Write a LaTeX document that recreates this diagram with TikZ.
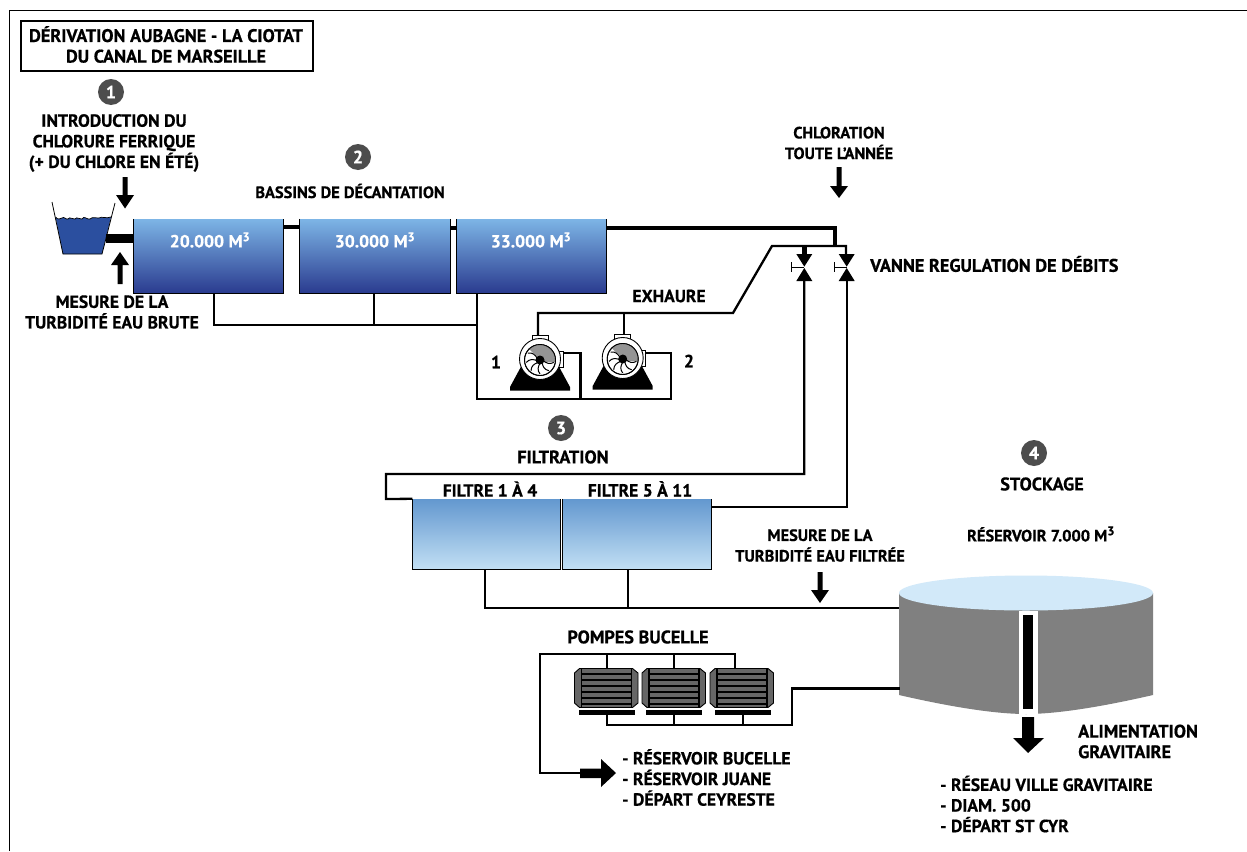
\documentclass[tikz,border=0pt]{standalone}
\usepackage{fontspec}
\setmainfont{PT Sans}[BoldFeatures={FakeBold=0.6}]
\usetikzlibrary{calc}
\definecolor{basintop}{HTML}{7DB5E6}
\definecolor{basinbot}{HTML}{2A3B8F}
\definecolor{filtertop}{HTML}{6398CF}
\definecolor{filterbot}{HTML}{C2DFF4}
\definecolor{badge}{HTML}{4D4D4D}
\definecolor{rsvtop}{HTML}{D2E9F9}
\definecolor{rsvside}{HTML}{808080}
\definecolor{motorgray}{HTML}{666666}
\definecolor{tankblue}{HTML}{2B4F9F}
\tikzset{
  lbl/.style={font=\bfseries\fontsize{17.6}{20.6}\selectfont,align=center,inner sep=0pt,text=black},
  lblbig/.style={lbl,font=\bfseries\fontsize{18.2}{20.6}\selectfont},
  lblsmall/.style={lbl,font=\bfseries\fontsize{16.4}{20.6}\selectfont},
  lbll/.style={lbl,align=left,anchor=west},
  basin/.style={minimum height=74pt,minimum width=150pt,inner sep=0pt,top color=basintop,bottom color=basinbot,text=white},
  filterbox/.style={minimum height=70pt,minimum width=148pt,inner sep=0pt,top color=filtertop,bottom color=filterbot},
  badgec/.style={circle,fill=badge,text=white,minimum size=26pt,inner sep=0pt,font=\bfseries\fontsize{18}{18}\selectfont},
  pipe/.style={draw=black,line width=2.3pt,line join=miter},
  pipeb/.style={draw=black,line width=4.6pt,line join=miter},
  edge/.style={draw=black,line width=1pt},
}
\newcommand{\mthree}{M\textsuperscript{\fontsize{12.5}{12}\selectfont 3}}
\newcommand{\vArrow}[5]{%
  \fill[black] (#1-#5,#2) -- (#1+#5,#2) -- (#1+#5,#3) -- (#1+9,#3) -- (#1,#4) -- (#1-9,#3) -- (#1-#5,#3) -- cycle;}
\newcommand{\valveglyph}[2]{%
  \fill[black] (#1-8,254) -- (#1+8,254) -- (#1,266.6) -- cycle;
  \fill[black] (#1-8,281) -- (#1+8,281) -- (#1,268) -- cycle;
  \draw[black,line width=1pt] (#2,262) -- (#2,272) (#2,267.3) -- (#1,267.3);}
\newcommand{\pumpglyph}[2]{%
 \begin{scope}[shift={(#1,#2)}]
  \fill[black] (-30,30.5) -- (30,30.5) -- (30,27) -- (17,3) -- (-17,3) -- (-30,27) -- cycle;
  \draw[black,fill=white,line width=.8pt] (-8,-20) rectangle (8,-24.5);
  \draw[black,fill=white,line width=.8pt] (18,-9) rectangle (23,7);
  \draw[black,fill=white,line width=.9pt] (0,-1) circle (20.5);
  \draw[black,fill=white,line width=.9pt] (0,0) circle (15.5);
  \fill[black!42] (-11,-11) arc (225:368:15.5) -- (4,2) -- (-2,-3) -- (-6,-6) -- cycle;
  \begin{scope}
   \clip (0,0) circle (15);
   \foreach \a in {150,190,230,270,310,350}{
    \draw[black,line width=1pt,rotate=\a] (3,0) .. controls (7,2) and (10,3) .. (14,0);}
  \end{scope}
  \draw[black,line width=.9pt] (0,0) circle (15.5);
  \fill[black] (0,0) circle (4.5);
 \end{scope}}
\newcommand{\motorglyph}[1]{%
 \begin{scope}[shift={(#1,0)}]
  \draw[black,fill=motorgray,line width=.9pt] (5,668.5) -- (58,668.5) -- (63.5,673) -- (63.5,703) -- (58,707.5) -- (5,707.5) -- (0,703) -- (0,673) -- cycle;
  \draw[black,line width=1.6pt] (7,668.5) -- (7,707.5) (57,668.5) -- (57,707.5);
  \foreach \y in {668.5,674,680,686,692,698,704,707.5}{\draw[black,line width=1.1pt] (7,\y) -- (57,\y);}
 \end{scope}}
\begin{document}
\begin{tikzpicture}[x=1pt,y=-1pt]
\useasboundingbox (0,0) rectangle (1247,851);
\fill[white] (0,0) rectangle (1247,851);
% page frame
\coordinate (fTL) at (9,10); \coordinate (fTR) at (1247,10); \coordinate (fBL) at (9,851);
\draw[black,line width=.8pt] (fBL) -- (fTL) -- (fTR);
% title
\node[draw=black,line width=2pt,minimum width=292pt,minimum height=50pt,inner sep=0pt] (titlebox) at (166.5,46) {};
\node[lblbig] (title) at (166,44.5) {DÉRIVATION AUBAGNE - LA CIOTAT\\DU CANAL DE MARSEILLE};
% badges
\node[badgec] (n1) at (111,92) {1};
\node[badgec] (n2) at (358,157) {2};
\node[badgec] (n3) at (561,428) {3};
\node[badgec] (n4) at (1034,453) {4};
% labels
\node[lbl] (intro) at (114,143) {INTRODUCTION DU\\CHLORURE FERRIQUE\\(+ DU CHLORE EN ÉTÉ)};
\node[lbl] (mesb) at (112,312) {MESURE DE LA\\TURBIDITÉ EAU BRUTE};
\node[lblsmall] (bass) at (350,191) {BASSINS DE DÉCANTATION};
\node[lblsmall] (chlo) at (839,143) {CHLORATION\\TOUTE L’ANNÉE};
\node[lblbig,align=left,anchor=west] (vanne) at (870,264) {VANNE REGULATION DE DÉBITS};
\node[lbl] (exh) at (669,296) {EXHAURE};
\node[lbl] (p1) at (496,362) {1};
\node[lbl] (p2) at (689,361) {2};
\node[lblbig] (filt) at (563,457) {FILTRATION};
\node[lbl] (f14) at (490,489) {FILTRE 1 À 4};
\node[lbl] (f511) at (640,489) {FILTRE 5 À 11};
\node[lblbig] (stock) at (1042,484) {STOCKAGE};
\node[lblsmall] (resv) at (1041,534) {RÉSERVOIR 7.000 \mthree};
\node[lblsmall] (mesf) at (820,545.5) {MESURE DE LA\\TURBIDITÉ EAU FILTRÉE};
\node[lblbig] (pomp) at (638,637) {POMPES BUCELLE};
\node[lblbig,align=left,anchor=west] (alim) at (1078,741.5) {ALIMENTATION\\GRAVITAIRE};
\node[lbll] (dest) at (622,777.5) {- RÉSERVOIR BUCELLE\\- RÉSERVOIR JUANE\\- DÉPART CEYRESTE};
\node[lbll] (grav) at (940,804) {- RÉSEAU VILLE GRAVITAIRE\\- DIAM. 500\\- DÉPART ST CYR};
% basins
\node[basin] (b1) at (208.7,256) {};
\node[basin] (b2) at (375,256) {};
\node[basin] (b3) at (531.5,256) {};
\node[lbl,text=white] (b1t) at (210,240) {20.000 \mthree};
\node[lbl,text=white] (b2t) at (375,240) {30.000 \mthree};
\node[lbl,text=white] (b3t) at (531,240) {33.000 \mthree};
\foreach \b in {b1,b2,b3}{\draw[edge] (\b.north west) -- (\b.south west) -- (\b.south east) -- (\b.north east);}
% coagulant tank
\coordinate (tL) at (52,202); \coordinate (tR) at (115,203);
\fill[tankblue] (55.5,217) .. controls (58,220) and (60,219) .. (62,218) .. controls (64,216) and (66,220) .. (68,219) .. controls (70,216) and (72,220) .. (75,219) .. controls (77,216) and (79,220) .. (82,219) .. controls (84,215) and (87,220) .. (90,219) .. controls (93,216) and (96,219) .. (99,218) .. controls (102,216) and (106,219) .. (111,217) -- (102,254) -- (63,254) -- cycle;
\draw[black,line width=.8pt] (tL) -- (63,254) -- (102,254) -- (tR);
\draw[black,line width=.7pt] (55.5,217) .. controls (58,220) and (60,219) .. (62,218) .. controls (64,216) and (66,220) .. (68,219) .. controls (70,216) and (72,220) .. (75,219) .. controls (77,216) and (79,220) .. (82,219) .. controls (84,215) and (87,220) .. (90,219) .. controls (93,216) and (96,219) .. (99,218) .. controls (102,216) and (106,219) .. (111,217);
% main pipes
\draw[black,line width=8.5pt] (106,238.5) -- (b1.west |- 0,238.5);
\draw[pipeb] (b1.east |- 0,227) -- (b2.west |- 0,227);
\coordinate (cA) at (835,228);
\draw[pipeb] (b3.east |- 0,228) -- (cA) -- (835,246);
\draw[pipeb] (b2.east |- 0,228) -- (b3.west |- 0,228);
% underflow
\coordinate (uL) at (214,325); \coordinate (uR) at (476.7,325);
\draw[pipe] (uL |- b1.south) -- (uL) -- (uR);
\draw[pipe] (374,293) -- (374,325);
% pumps loop
\coordinate (lB) at (476.7,399);
\draw[pipe] (lB |- b3.south) -- (lB) -- (670.7,399) -- (670.7,353) -- (645,353);
\draw[pipe] (580.5,399) -- (580.5,353) -- (562,353);
\coordinate (ex1) at (538,313); \coordinate (ex2) at (733,313); \coordinate (ex3) at (772,246); \coordinate (ex4) at (846,246);
\draw[pipe] (538,336) -- (ex1) -- (ex2) -- (ex3) -- (ex4) -- (846,254);
\draw[pipe] (624,313) -- (624,336);
\pumpglyph{540}{360}
\pumpglyph{622.7}{359}
% valves
\draw[pipeb] (804.3,246) -- (804.3,255);
\valveglyph{804.3}{791.7}
\valveglyph{846.7}{834}
% filters
\node[filterbox] (f1) at (486.5,534) {};
\node[filterbox] (f2) at (637,534) {};
\foreach \b in {f1,f2}{\draw[edge] (\b.north west) -- (\b.south west) -- (\b.south east) -- (\b.north east);}
\draw[pipe] (804.3,280) -- (804.3,474) -- (386,474) -- (386,499) -- (f1.north west);
\draw[pipe] (846.7,280) -- (846.7,507) -- (f2.east |- 0,507);
\draw[pipe] (485,569) -- (485,608) -- (900,608);
\draw[pipe] (628,569) -- (628,608);
% reservoir
\coordinate (rL) at (899,593); \coordinate (rR) at (1153,593);
\fill[rsvside] (rL) -- (899,695) .. controls (960,709) and (1000,714) .. (1026,714) .. controls (1052,714) and (1092,709) .. (1153,695) -- (rR) -- cycle;
\fill[rsvtop] (1026,593) ellipse (127 and 17.5);
\fill[white] (1019,610.5) rectangle (1037.7,714);
\fill[black] (1023,615) rectangle (1033,709);
\fill[black] (1022,717) -- (1034,717) -- (1034,738) -- (1044,738) -- (1028,753) -- (1013,738) -- (1022,738) -- cycle;
% motors
\draw[pipe] (735,668) -- (735,654) -- (540,654) -- (540,773) -- (582,773);
\draw[pipe] (606.7,654) -- (606.7,668);
\draw[pipe] (674,654) -- (674,668);
\draw[pipe] (606.7,714) -- (606.7,725) -- (791.7,725) -- (791.7,688.5) -- (900,688.5);
\draw[pipe] (674,714) -- (674,725);
\draw[pipe] (743,714) -- (743,725);
\motorglyph{574.5}
\motorglyph{642}
\motorglyph{710}
\fill[black] (579,709.5) rectangle (635,714.5);
\fill[black] (646,709.5) rectangle (702,714.5);
\fill[black] (715,709.5) rectangle (771,714.5);
% block arrows
\fill[black] (580,768.5) -- (601,768.5) -- (601,759) -- (616,773) -- (601,787) -- (601,778) -- (580,778) -- cycle;
\vArrow{125}{177}{195}{208.5}{2.5}
\vArrow{120}{284}{265}{252}{2.5}
\vArrow{839}{167}{186}{198}{2.5}
\vArrow{820}{572}{590}{603}{2.5}
\end{tikzpicture}
\end{document}
